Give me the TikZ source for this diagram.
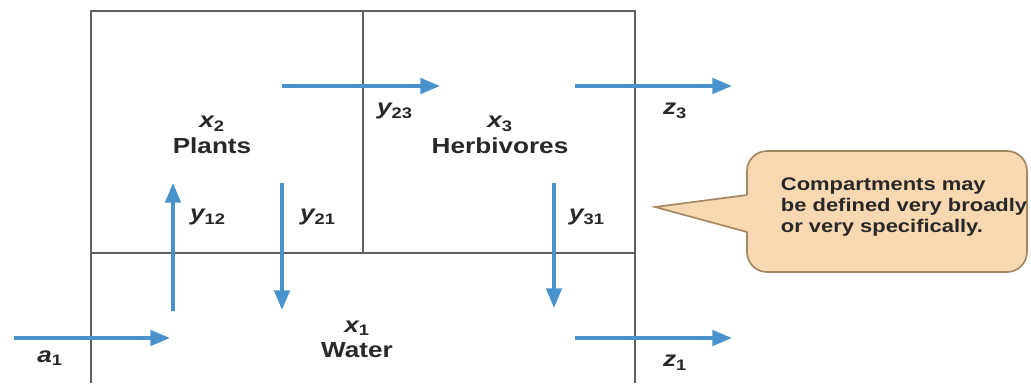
\documentclass[tikz,border=0pt]{standalone}
\usepackage{fontspec}
\setmainfont{Liberation Sans}[FakeStretch=1.2]
\usepackage{tikz}
\usetikzlibrary{arrows.meta}
\definecolor{flowc}{RGB}{74,146,204}
\definecolor{wallc}{RGB}{95,95,95}
\definecolor{txtc}{RGB}{40,40,40}
\definecolor{notefill}{RGB}{248,216,176}
\definecolor{notedraw}{RGB}{165,135,100}
\newcommand\cvar[2]{{\itshape #1}\textsubscript{#2}}

\begin{document}
\begin{tikzpicture}[
    >={Triangle[length=14pt,width=11pt]},
    flow/.style={->,line width=2.3pt,draw=flowc},
    wall/.style={line width=1.3pt,draw=wallc},
    cmp/.style={font=\fontsize{15.5}{18}\selectfont\bfseries,text=txtc,align=center},
    lbl/.style={font=\fontsize{15.5}{18}\selectfont\bfseries,text=txtc},
    callout/.style={line width=1.2pt,draw=notedraw,fill=notefill},
  ]
  \useasboundingbox (0,0) rectangle (25.775,9.575);
  % compartments
  \draw[wall] (2.275,0) -- (2.275,9.3) -- (15.875,9.3) -- (15.875,0);
  \draw[wall] (2.275,3.25) -- (15.875,3.25);
  \draw[wall] (9.075,3.25) -- (9.075,9.3);
  \node[cmp] (plants) at (5.3,6.2)    {\cvar{x}{2}\\Plants};
  \node[cmp] (herb)   at (12.5,6.2)   {\cvar{x}{3}\\Herbivores};
  \node[cmp] (water)  at (8.925,1.1)  {\cvar{x}{1}\\Water};
  % flow ends
  \coordinate (a1s)  at (0.35,1.125);   \coordinate (a1e)  at (4.25,1.125);
  \coordinate (y12s) at (4.325,1.8);    \coordinate (y12e) at (4.325,5.0);
  \coordinate (y21s) at (7.05,5.0);     \coordinate (y21e) at (7.05,1.825);
  \coordinate (y23s) at (7.05,7.425);   \coordinate (y23e) at (11.0,7.425);
  \coordinate (z3s)  at (14.375,7.425); \coordinate (z3e)  at (18.3,7.425);
  \coordinate (y31s) at (13.85,5.0);    \coordinate (y31e) at (13.85,1.875);
  \coordinate (z1s)  at (14.375,1.125); \coordinate (z1e)  at (18.3,1.125);
  \draw[flow] (a1s)  -- (a1e);
  \draw[flow] (y12s) -- (y12e);
  \draw[flow] (y21s) -- (y21e);
  \draw[flow] (y23s) -- (y23e);
  \draw[flow] (z3s)  -- (z3e);
  \draw[flow] (y31s) -- (y31e);
  \draw[flow] (z1s)  -- (z1e);
  \node[lbl] (la1)  at (1.25,0.62)   {\cvar{a}{1}};
  \node[lbl] (ly12) at (5.2,4.15)    {\cvar{y}{12}};
  \node[lbl] (ly21) at (7.95,4.15)   {\cvar{y}{21}};
  \node[lbl] (ly23) at (9.875,6.8)   {\cvar{y}{23}};
  \node[lbl] (lz3)  at (16.875,6.8)  {\cvar{z}{3}};
  \node[lbl] (ly31) at (14.675,4.15) {\cvar{y}{31}};
  \node[lbl] (lz1)  at (16.875,0.5)  {\cvar{z}{1}};
  % callout
  \filldraw[callout,rounded corners=0.5cm] (18.675,2.775) rectangle (25.675,5.8);
  \fill[notefill] (18.72,4.7) -- (16.375,4.4) -- (18.72,3.775) -- cycle;
  \draw[callout,fill=none] (18.675,4.7) -- (16.375,4.4) -- (18.675,3.775);
  \node[font=\fontsize{13}{14.9}\selectfont\bfseries,text=txtc,align=left,anchor=west]
    (note) at (19.4,4.4) {Compartments may\\be defined very broadly\\or very specifically.};
\end{tikzpicture}
\end{document}
